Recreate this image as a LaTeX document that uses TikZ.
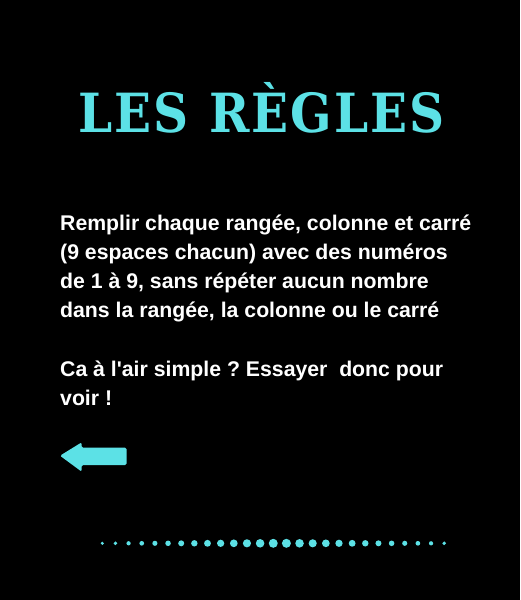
\documentclass[tikz,border=0pt]{standalone}
\usepackage{fontspec}
\setmainfont{Liberation Sans}[Ligatures=TeXOff]
\newfontfamily\titlefont{DejaVu Serif Condensed}
\definecolor{cyanc}{HTML}{5CE1E6}
\newcommand{\tk}{\kern1.9pt}
\tikzset{
  titletext/.style={text=cyanc, inner sep=0pt, anchor=base, font=\titlefont\bfseries\fontsize{54}{54}\selectfont},
  bodytext/.style={text=white, inner sep=0pt, anchor=base west, align=left, font=\bfseries\fontsize{21.25}{29.2}\selectfont\frenchspacing},
  dotstyle/.style={fill=cyanc, draw=none}
}
\begin{document}
\begin{tikzpicture}[x=1pt,y=-1pt]
\fill[black] (0,0) rectangle (520,600);
\useasboundingbox (0,0) rectangle (520,600);
\node[titletext] (title) at (261.5,132) {L\tk E\tk S\tk\ \tk R\tk È\tk G\tk L\tk E\tk S};
\node[bodytext] (p1) at (60,317.6) {Remplir chaque rangée, colonne et carré\\(9 espaces chacun) avec des numéros\\de 1 à 9, sans répéter aucun nombre\\dans la rangée, la colonne ou le carré};
\node[bodytext] (p2) at (60,405.2) {Ca à l'air simple ? Essayer\ \ donc pour\\voir !};
\fill[cyanc, rounded corners=1.5pt] (60,455.7) -- (81.7,442.3) -- (81.7,447.7) -- (126.7,447.7) -- (126.7,465) -- (81.7,465) -- (81.7,471.7) -- cycle;
\foreach \i in {0,...,26} {
  \pgfmathsetmacro{\r}{1.7+2.9*(1-abs(\i-13.5)/13.5)}
  \fill[dotstyle] ({102.3+13.15*\i},543.3) circle (\r);
}
\end{tikzpicture}
\end{document}
